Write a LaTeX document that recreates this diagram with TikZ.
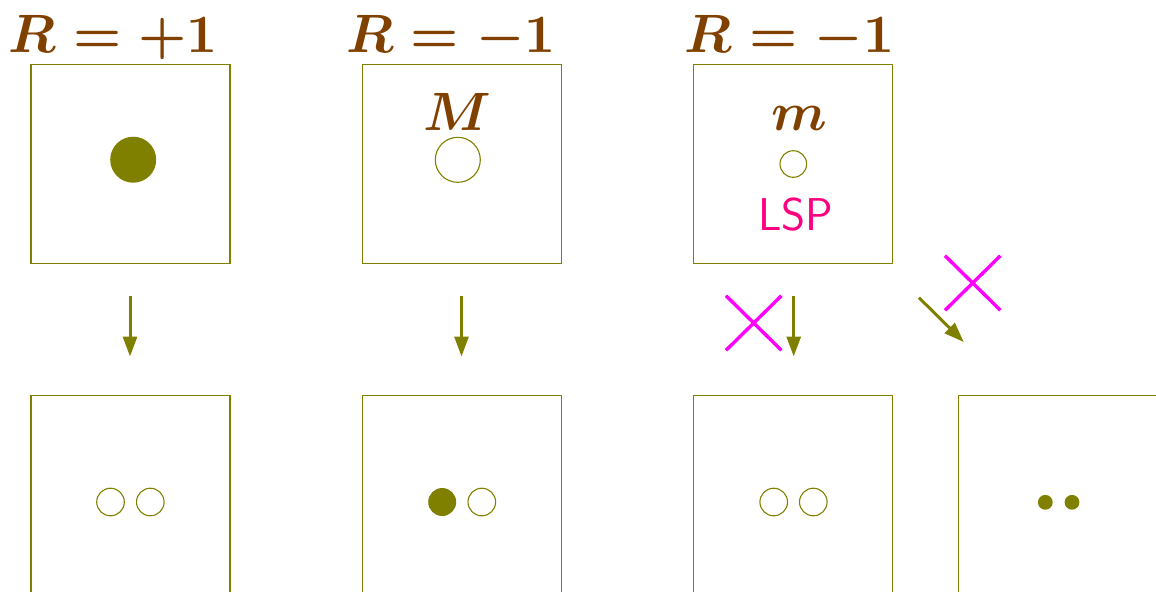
\documentclass[tikz,border=0pt]{standalone}
\usetikzlibrary{arrows.meta,shapes.misc}
\definecolor{ttl}{RGB}{128,64,0}
\definecolor{ol}{RGB}{128,128,0}
\definecolor{lsp}{RGB}{255,0,128}
\definecolor{xmag}{RGB}{255,0,255}
\newcommand{\bigmath}[1]{\scalebox{2.7}{\boldmath$#1$}}
\begin{document}
\begin{tikzpicture}[x=0.5pt,y=-0.5pt,
  box/.style={draw=ol, line width=0.55pt, minimum size=99.5pt, inner sep=0pt},
  title/.style={text=ttl, inner sep=0pt, anchor=base},
  opencirc/.style={circle, draw=ol, line width=0.55pt, inner sep=0pt, minimum size=#1},
  fullcirc/.style={circle, fill=ol, inner sep=0pt, minimum size=#1},
  arr/.style={draw=ol, line width=1.5pt, -{Triangle[length=10pt,width=7pt]}},
  crossx/.style={cross out, draw=xmag, line width=1.7pt, inner sep=0pt, minimum width=26pt, minimum height=25.6pt}
]
\useasboundingbox (0,0) rectangle (1156,591);
\clip (0,0) rectangle (1156,591);
% titles
\node[title] (h1) at (113.3,52) {\bigmath{R=+1}};
\node[title] (h2) at (450.8,52) {\bigmath{R=-1}};
\node[title] (h3) at (789.3,52) {\bigmath{R=-1}};
% top boxes
\node[box] (t1) at (130.5,163.8) {};
\node[box] (t2) at (461.8,163.8) {};
\node[box] (t3) at (793,163.8) {};
% bottom boxes
\node[box] (b1) at (130.5,495.2) {};
\node[box] (b2) at (461.8,495.2) {};
\node[box] (b3) at (793,495.2) {};
\node[box] (b4) at (1058.2,495.2) {};
% top contents
\node[fullcirc=23pt] (c1) at (133.2,159.7) {};
\node[title] (lM) at (457.5,130) {\bigmath{M}};
\node[opencirc=22.5pt] (c2) at (457.8,159.8) {};
\node[title] (lm) at (799,130.7) {\bigmath{m}};
\node[opencirc=13.3pt] (c3) at (793.3,164) {};
\node[text=lsp, font=\fontsize{23}{28}\selectfont\sffamily, inner sep=0pt, anchor=base] (lsp) at (795.7,230) {LSP};
% bottom contents
\node[opencirc=13.8pt] (d1a) at (110.5,502) {};
\node[opencirc=13.8pt] (d1b) at (150.3,502) {};
\node[fullcirc=14pt] (d2a) at (442.2,502) {};
\node[opencirc=13.8pt] (d2b) at (481.8,502) {};
\node[opencirc=13.8pt] (d3a) at (773.7,502) {};
\node[opencirc=13.8pt] (d3b) at (813.3,502) {};
\node[fullcirc=7.4pt] (d4a) at (1045.3,502.3) {};
\node[fullcirc=7.4pt] (d4b) at (1072,502.3) {};
% arrows
\coordinate (a1s) at (130,296); \coordinate (a1e) at (130,356.5);
\coordinate (a2s) at (461.5,296); \coordinate (a2e) at (461.5,356.5);
\coordinate (a3s) at (793.7,296); \coordinate (a3e) at (793.7,356.5);
\coordinate (a4s) at (919,297.7); \coordinate (a4e) at (963.8,342);
\draw[arr] (a1s) -- (a1e);
\draw[arr] (a2s) -- (a2e);
\draw[arr] (a3s) -- (a3e);
\draw[arr] (a4s) -- (a4e);
% crosses
\node[crossx] (x1) at (753.7,323) {};
\node[crossx] (x2) at (972.7,283) {};
\end{tikzpicture}
\end{document}
